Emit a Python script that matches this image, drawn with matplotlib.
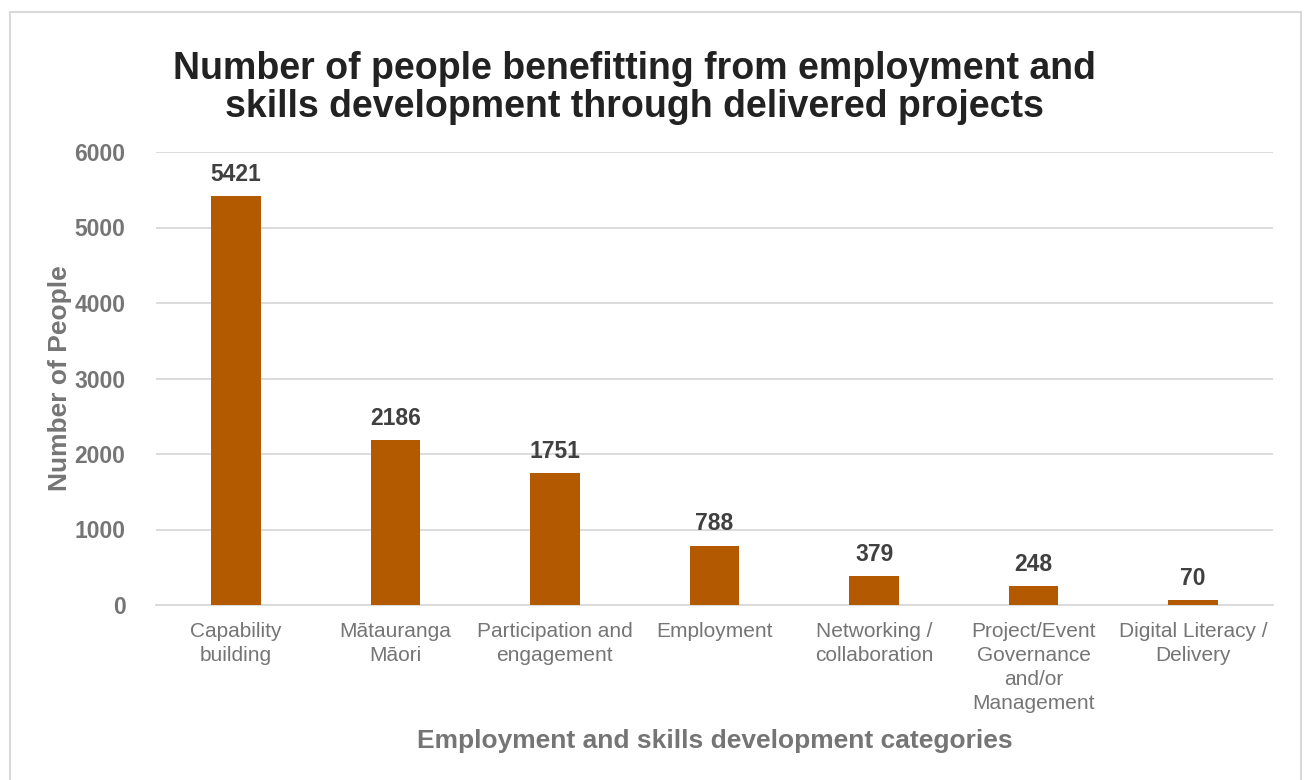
import matplotlib.pyplot as plt
from matplotlib.patches import Rectangle

plt.rcParams['font.family'] = ['Liberation Sans', 'DejaVu Sans']

# data
categories = [
    'Capability\nbuilding',
    'Mātauranga\nMāori',
    'Participation and\nengagement',
    'Employment',
    'Networking /\ncollaboration',
    'Project/Event\nGovernance\nand/or\nManagement',
    'Digital Literacy /\nDelivery',
]
people = [5421, 2186, 1751, 788, 379, 248, 70]
y_ticks = [0, 1000, 2000, 3000, 4000, 5000, 6000]

BAR_COLOR = '#B35A00'
GRID_COLOR = '#D9D9D9'
TICK_GRAY = '#757575'

fig = plt.figure(figsize=(13.06, 7.8), dpi=100)

# outer chart border
fig.patches.append(Rectangle((10 / 1306, -0.05), 1291 / 1306, 1 - 12 / 780 + 0.05,
                             transform=fig.transFigure, fill=False,
                             edgecolor='#D9D9D9', linewidth=1.5))

ax = fig.add_axes([156 / 1306, 1 - 605 / 780, 1117 / 1306, 453 / 780])

x = range(len(categories))
ax.bar(x, people, width=0.31, color=BAR_COLOR, zorder=3)

for xi, v in zip(x, people):
    ax.text(xi, v + 200, str(v), ha='center', va='baseline',
            fontsize=16.5, fontweight='bold', color='#404040')

ax.set_xlim(-0.5, len(categories) - 0.5)
ax.set_ylim(0, 6000)
ax.set_yticks(y_ticks)
ax.set_yticklabels([str(t) for t in y_ticks], fontsize=16.5,
                   fontweight='bold', color=TICK_GRAY)
ax.set_xticks(list(x))
ax.set_xticklabels(categories, fontsize=15, color=TICK_GRAY,
                   linespacing=1.33, va='top')
ax.tick_params(axis='both', length=0)
ax.tick_params(axis='y', pad=22)
ax.tick_params(axis='x', pad=12)

ax.grid(axis='y', color=GRID_COLOR, linewidth=1.3, zorder=0)
for s in ['top', 'right', 'left']:
    ax.spines[s].set_visible(False)
ax.spines['bottom'].set_color(GRID_COLOR)
ax.spines['bottom'].set_linewidth(1.3)

fig.text(60 / 1306, 1 - 378 / 780, 'Number of People', rotation=90,
         ha='center', va='center', fontsize=19, fontweight='bold', color=TICK_GRAY)
fig.text(715 / 1306, 1 - 741 / 780, 'Employment and skills development categories',
         ha='center', va='center', fontsize=19, fontweight='bold', color=TICK_GRAY)

fig.text(634 / 1306, 1 - 88 / 780,
         'Number of people benefitting from employment and\n'
         'skills development through delivered projects',
         ha='center', va='center', fontsize=27, fontweight='bold',
         color='#222222', linespacing=1.08)

fig.savefig('out.png', dpi=100, facecolor='white')
